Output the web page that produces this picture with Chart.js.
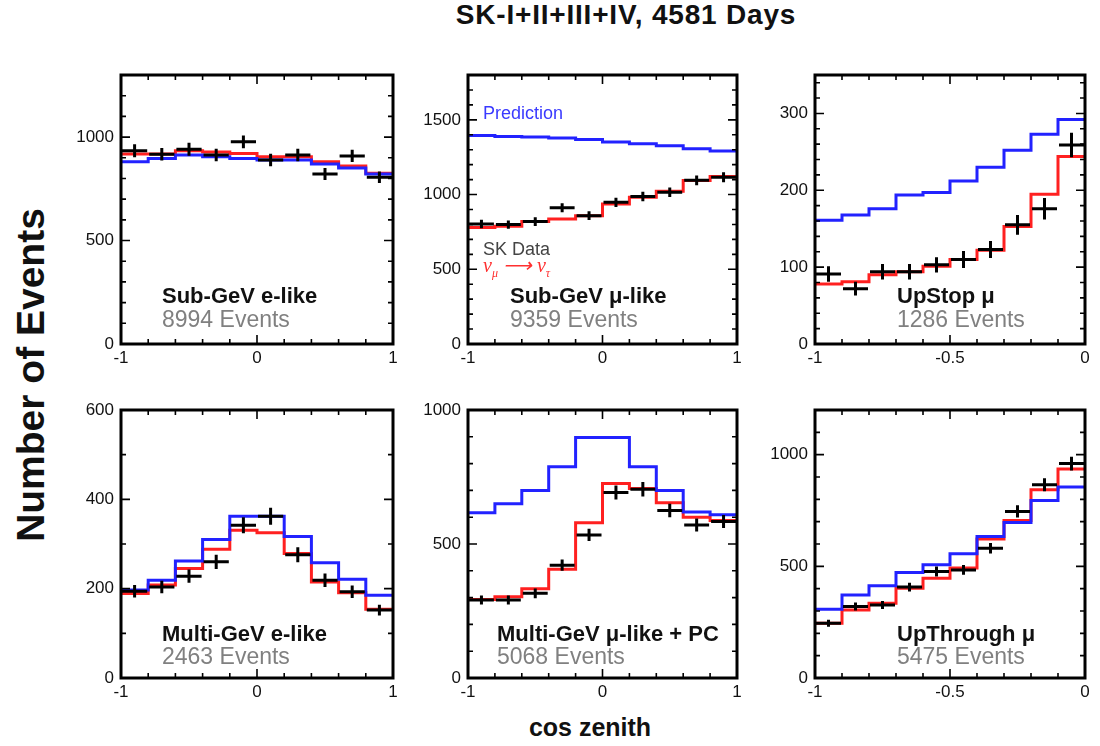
<!DOCTYPE html>
<html><head><meta charset="utf-8">
<script src="https://cdn.jsdelivr.net/npm/chart.js@4.4.1/dist/chart.umd.min.js"></script>
<style>
html,body{margin:0;padding:0;background:#fff;}
body{width:1100px;height:746px;position:relative;overflow:hidden;font-family:"Liberation Sans",Arial,Helvetica,sans-serif;}
canvas{position:absolute;}
.t{position:absolute;white-space:nowrap;line-height:1;}
.b{font-weight:bold;color:#111;}
.g{color:#808080;}
</style></head><body>
<script>
// ---------- data ----------
const binsFull = [-1, -0.8, -0.6, -0.4, -0.2, 0, 0.2, 0.4, 0.6, 0.8, 1];
const binsUp   = [-1, -0.9, -0.8, -0.7, -0.6, -0.5, -0.4, -0.3, -0.2, -0.1, 0];

const xTicksFull = [-1, 0, 1];
const xTicksUp   = [-1, -0.5, 0];

const subGeVeNoOsc = [881, 897, 913, 905, 897, 889, 889, 870, 850, 821];
const subGeVeOsc   = [918, 918, 934, 928, 921, 905, 905, 881, 860, 825];
const subGeVeData  = [934, 917, 941, 913, 977, 889, 913, 822, 909, 806];
const subGeVeErr   = [31, 30, 31, 30, 31, 30, 30, 29, 30, 28];
const subGeVeYTicks = [0, 500, 1000];

const subGeVmuNoOsc = [1396, 1389, 1385, 1378, 1369, 1351, 1340, 1327, 1306, 1291];
const subGeVmuOsc   = [780, 788, 819, 837, 859, 937, 982, 1022, 1094, 1121];
const subGeVmuData  = [803, 799, 819, 911, 859, 948, 987, 1015, 1095, 1116];
const subGeVmuErr   = [28, 28, 29, 30, 29, 31, 31, 32, 33, 33];
const subGeVmuYTicks = [0, 500, 1000, 1500];

const upStopNoOsc = [161, 168, 176, 194, 197, 212, 230, 252, 273, 292];
const upStopOsc   = [78, 81, 90, 94, 101, 110, 122, 153, 195, 244];
const upStopData  = [91, 72, 94, 94, 103, 110, 123, 155, 176, 259];
const upStopErr   = [10, 9, 10, 10, 10, 11, 11, 13, 14, 16];
const upStopYTicks = [0, 100, 200, 300];

const multiGeVeNoOsc = [197, 219, 262, 310, 362, 362, 317, 258, 221, 185];
const multiGeVeOsc   = [189, 208, 245, 288, 331, 325, 279, 215, 191, 154];
const multiGeVeData  = [194, 204, 228, 260, 342, 362, 276, 219, 193, 152];
const multiGeVeErr   = [14, 14, 15, 16, 18, 19, 17, 15, 14, 12];
const multiGeVeYTicks = [0, 200, 400, 600];

const multiGeVmuNoOsc = [617, 650, 700, 788, 897, 897, 788, 700, 619, 609];
const multiGeVmuOsc   = [293, 303, 333, 406, 579, 726, 707, 654, 600, 588];
const multiGeVmuData  = [291, 291, 316, 421, 534, 692, 704, 625, 571, 584];
const multiGeVmuErr   = [17, 17, 18, 21, 23, 26, 27, 25, 24, 24];
const multiGeVmuYTicks = [0, 500, 1000];

const upThroughNoOsc = [308, 372, 413, 472, 507, 556, 634, 696, 795, 855];
const upThroughOsc   = [245, 305, 335, 402, 447, 492, 622, 705, 843, 936];
const upThroughData  = [245, 320, 327, 407, 477, 484, 581, 746, 865, 960];
const upThroughErr   = [16, 18, 18, 20, 22, 22, 24, 27, 29, 31];
const upThroughYTicks = [0, 500, 1000];

const panelNames  = ["Sub-GeV e-like", "Sub-GeV \u03bc-like", "UpStop \u03bc", "Multi-GeV e-like", "Multi-GeV \u03bc-like + PC", "UpThrough \u03bc"];
const panelCounts = ["8994 Events", "9359 Events", "1286 Events", "2463 Events", "5068 Events", "5475 Events"];

// ---------- layout ----------
const BLUE = '#2222ff', RED = '#ff2020';
const LEFT = 60, PADT = 8, PADR = 14, BOTTOM = 32;
const panels = [
  {L:121, T:75,  W:272, H:269, bins:binsFull, xt:xTicksFull, yt:subGeVeYTicks,    pred:subGeVeNoOsc,    osc:subGeVeOsc,    data:subGeVeData,    err:subGeVeErr,    ymax:1300, ystep:500, yminor:100, xstep:1,   xminor:0.2, lx:162, l1:40, l2:17},
  {L:468, T:75,  W:269, H:269, bins:binsFull, xt:xTicksFull, yt:subGeVmuYTicks,   pred:subGeVmuNoOsc,   osc:subGeVmuOsc,   data:subGeVmuData,   err:subGeVmuErr,   ymax:1800, ystep:500, yminor:100, xstep:1,   xminor:0.2, lx:510, l1:40, l2:17},
  {L:815, T:75,  W:270, H:269, bins:binsUp,   xt:xTicksUp,   yt:upStopYTicks,     pred:upStopNoOsc,     osc:upStopOsc,     data:upStopData,     err:upStopErr,     ymax:350,  ystep:100, yminor:20,  xstep:0.5, xminor:0.1, lx:897, l1:40, l2:17},
  {L:121, T:410, W:272, H:268, bins:binsFull, xt:xTicksFull, yt:multiGeVeYTicks,  pred:multiGeVeNoOsc,  osc:multiGeVeOsc,  data:multiGeVeData,  err:multiGeVeErr,  ymax:600,  ystep:200, yminor:100, xstep:1,   xminor:0.2, lx:162, l1:36, l2:14},
  {L:468, T:410, W:269, H:268, bins:binsFull, xt:xTicksFull, yt:multiGeVmuYTicks, pred:multiGeVmuNoOsc, osc:multiGeVmuOsc, data:multiGeVmuData, err:multiGeVmuErr, ymax:1000, ystep:500, yminor:100, xstep:1,   xminor:0.2, lx:497, l1:36, l2:14},
  {L:815, T:410, W:270, H:268, bins:binsUp,   xt:xTicksUp,   yt:upThroughYTicks,  pred:upThroughNoOsc,  osc:upThroughOsc,  data:upThroughData,  err:upThroughErr,  ymax:1200, ystep:500, yminor:100, xstep:0.5, xminor:0.1, lx:897, l1:36, l2:14}
];

function stepPoints(bins, vals){
  return bins.map((e,i)=>({x:e, y:vals[Math.min(i, vals.length-1)]}));
}

const crossPlugin = {
  id:'crosses',
  afterDatasetsDraw(chart, args, opts){
    if(!opts || !opts.vals) return;
    const xs = chart.scales.x, ys = chart.scales.y, ctx = chart.ctx;
    ctx.save();
    ctx.strokeStyle = '#000'; ctx.lineWidth = 3; ctx.lineCap = 'butt';
    opts.vals.forEach((v,i)=>{
      const x0 = xs.getPixelForValue(opts.bins[i]), x1 = xs.getPixelForValue(opts.bins[i+1]);
      const xm = (x0+x1)/2, y = ys.getPixelForValue(v);
      const ya = ys.getPixelForValue(v - opts.err[i]), yb = ys.getPixelForValue(v + opts.err[i]);
      ctx.beginPath();
      ctx.moveTo(x0+1, y); ctx.lineTo(x1-1, y);
      ctx.moveTo(xm, ya); ctx.lineTo(xm, yb);
      ctx.stroke();
    });
    ctx.restore();
  }
};

const framePlugin = {
  id:'frame',
  afterDraw(chart, args, opts){
    const a = chart.chartArea, ctx = chart.ctx, xs = chart.scales.x, ys = chart.scales.y;
    ctx.save();
    ctx.strokeStyle = '#000';
    ctx.lineWidth = 1.6;
    const eps = 1e-6;
    for(let v = xs.min; v <= xs.max + eps; v += opts.xminor){
      const px = xs.getPixelForValue(v);
      const major = Math.abs(v/opts.xstep - Math.round(v/opts.xstep)) < 1e-4;
      const len = major ? 9 : 5;
      ctx.beginPath();
      ctx.moveTo(px, a.bottom); ctx.lineTo(px, a.bottom - len);
      ctx.moveTo(px, a.top); ctx.lineTo(px, a.top + len);
      ctx.stroke();
    }
    for(let v = ys.min; v <= ys.max + eps; v += opts.yminor){
      const py = ys.getPixelForValue(v);
      const major = Math.abs(v/opts.ystep - Math.round(v/opts.ystep)) < 1e-4;
      const len = major ? 9 : 5;
      ctx.beginPath();
      ctx.moveTo(a.left, py); ctx.lineTo(a.left + len, py);
      ctx.moveTo(a.right, py); ctx.lineTo(a.right - len, py);
      ctx.stroke();
    }
    ctx.lineWidth = 3;
    ctx.strokeRect(a.left, a.top, a.right - a.left, a.bottom - a.top);
    ctx.restore();
  }
};

function addText(html, cls, x, y, size, extra){
  const d = document.createElement('div');
  d.className = 't ' + cls;
  d.innerHTML = html;
  d.style.left = x + 'px';
  d.style.top = (y - 0.8465*size) + 'px';
  d.style.fontSize = size + 'px';
  if(extra) Object.assign(d.style, extra);
  document.body.appendChild(d);
  return d;
}

const TICKFONT = {family:'"Liberation Sans", Arial', size:17};

panels.forEach((p, idx)=>{
  const c = document.createElement('canvas');
  const cw = LEFT + p.W + PADR, ch = PADT + p.H + BOTTOM;
  c.width = cw; c.height = ch;
  c.style.left = (p.L - LEFT) + 'px'; c.style.top = (p.T - PADT) + 'px';
  c.style.width = cw + 'px'; c.style.height = ch + 'px';
  document.body.appendChild(c);
  new Chart(c, {
    type:'line',
    data:{datasets:[
      {data:stepPoints(p.bins, p.pred), borderColor:BLUE, borderWidth:3, stepped:'before', pointRadius:0, fill:false},
      {data:stepPoints(p.bins, p.osc),  borderColor:RED,  borderWidth:3, stepped:'before', pointRadius:0, fill:false}
    ]},
    options:{
      responsive:false, animation:false, devicePixelRatio:1,
      layout:{padding:{top:PADT, right:PADR, left:0, bottom:0}},
      plugins:{legend:{display:false}, tooltip:{enabled:false},
        crosses:{vals:p.data, err:p.err, bins:p.bins},
        frame:{xstep:p.xstep, xminor:p.xminor, ystep:p.ystep, yminor:p.yminor}},
      scales:{
        x:{type:'linear', min:p.bins[0], max:p.bins[p.bins.length-1],
           grid:{display:false, drawTicks:false}, border:{display:false},
           afterBuildTicks:(s)=>{ s.ticks = p.xt.map(v=>({value:v})); },
           ticks:{maxRotation:0, autoSkip:false, padding:4, color:'#111', font:TICKFONT,
                  callback:(v)=>String(v)},
           afterFit:(s)=>{s.height = BOTTOM; s.paddingLeft = 0; s.paddingRight = 0;}},
        y:{type:'linear', min:0, max:p.ymax,
           grid:{display:false, drawTicks:false}, border:{display:false},
           afterBuildTicks:(s)=>{ s.ticks = p.yt.map(v=>({value:v})); },
           ticks:{padding:7, color:'#111', font:TICKFONT, callback:(v)=>String(v)},
           afterFit:(s)=>{s.width = LEFT; s.paddingTop = 0; s.paddingBottom = 0;}}
      }
    },
    plugins:[crossPlugin, framePlugin]
  });
  const bottom = p.T + p.H;
  addText(panelNames[idx], 'b', p.lx, bottom - p.l1, 22);
  addText(panelCounts[idx], 'g', p.lx, bottom - p.l2, 23);
});

// titles & labels
addText('SK-I+II+III+IV, 4581 Days', 'b', 626, 25, 28, {transform:'translateX(-50%)', letterSpacing:'0.8px'});
addText('cos zenith', 'b', 590, 736, 25, {transform:'translateX(-50%)'});
const yl = document.createElement('div');
yl.className = 't b';
yl.textContent = 'Number of Events';
Object.assign(yl.style, {left:'30px', top:'375px', fontSize:'39px', transform:'translate(-50%,-50%) rotate(-90deg)'});
document.body.appendChild(yl);

// legend texts (middle top panel)
addText('Prediction', '', 483, 119, 18, {color:'#3a3aff'});
addText('SK Data', '', 483, 255, 18, {color:'#444'});
addText('\u03bd<sub style="font-size:12px">\u03bc</sub> \u27f6 \u03bd<sub style="font-size:12px">\u03c4</sub>', '', 483, 272, 20, {color:'#ff3030', fontFamily:'"Liberation Serif", serif', fontStyle:'italic'});
</script>
</body></html>
